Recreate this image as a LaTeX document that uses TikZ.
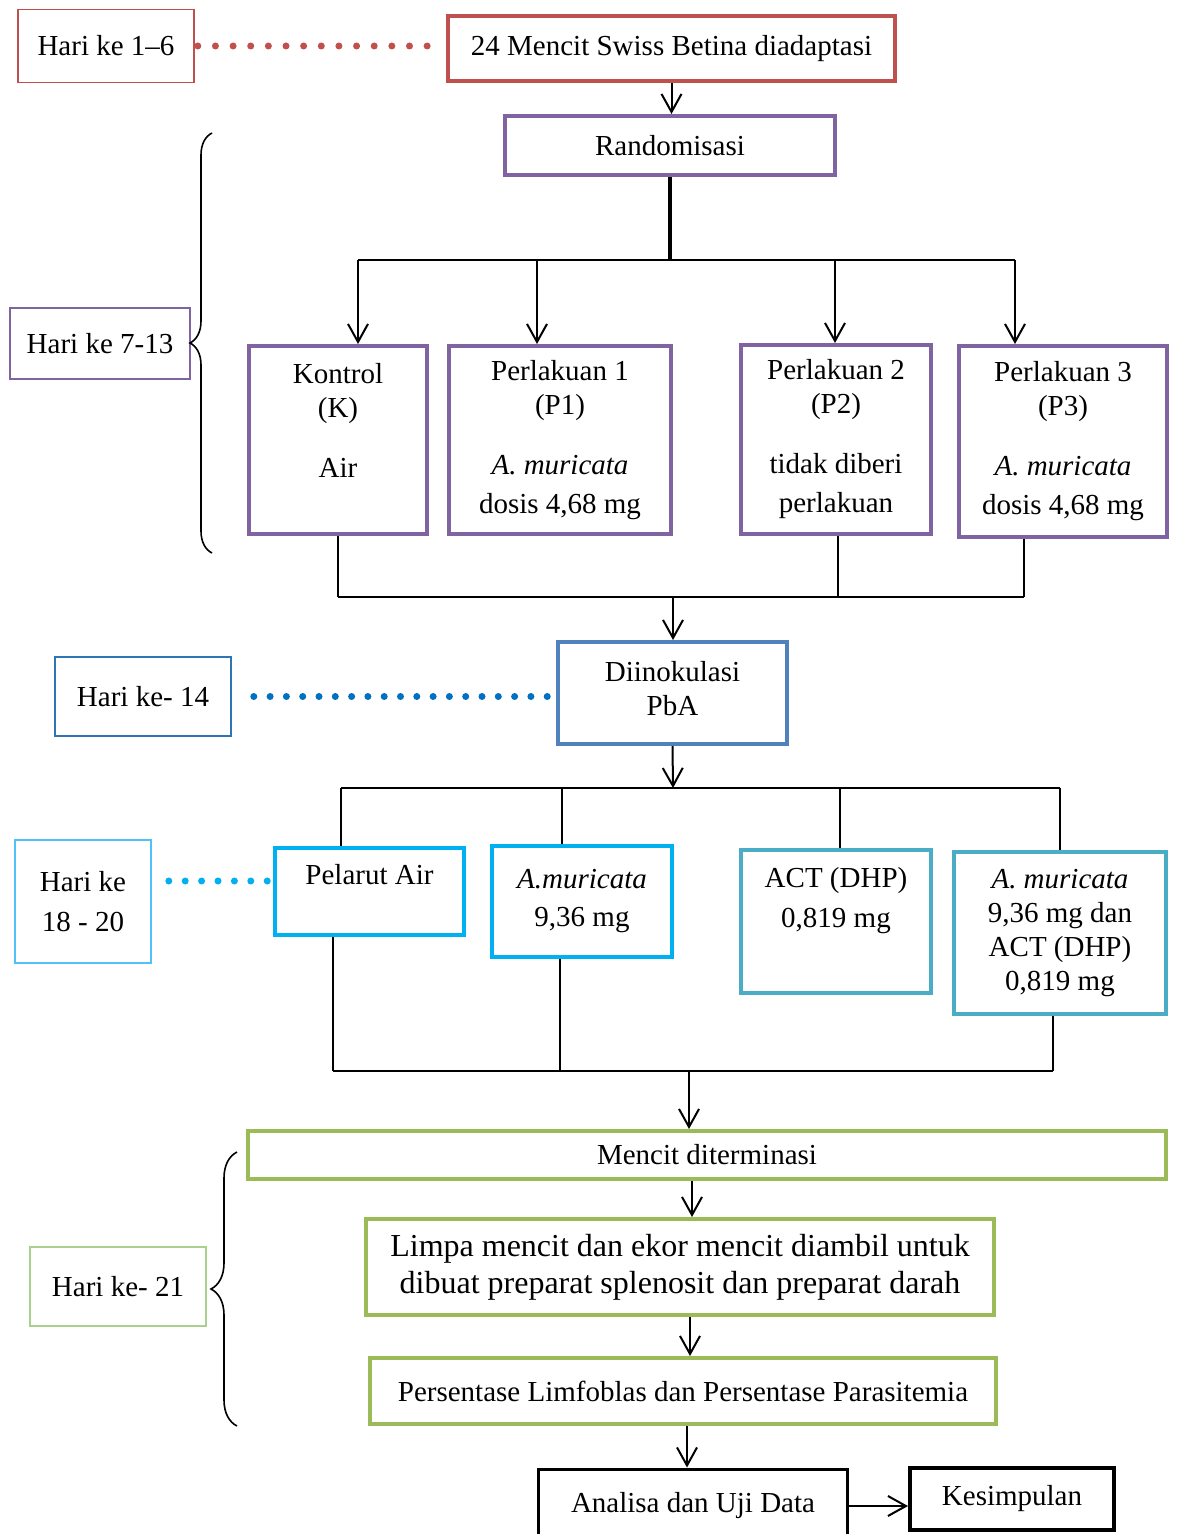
\documentclass[tikz,border=0pt]{standalone}
\usepackage{fontspec}
\setmainfont{Liberation Serif}
\usetikzlibrary{arrows.meta,decorations.pathreplacing}
\definecolor{boxred}{HTML}{C0504D}
\definecolor{boxpurple}{HTML}{8064A2}
\definecolor{boxblue}{HTML}{4F81BD}
\definecolor{dotblue}{HTML}{0070C0}
\definecolor{boxcyan}{HTML}{00B0F0}
\definecolor{boxteal}{HTML}{4BACC6}
\definecolor{boxgreen}{HTML}{9BBB59}
\definecolor{dayblue}{HTML}{2E75B6}
\definecolor{daycyan}{HTML}{4FC3F7}
\definecolor{daygreen}{HTML}{A9D18E}
\tikzset{
  stage/.style={draw,line width=2pt,align=center,inner sep=1pt},
  day/.style={draw,line width=0.8pt,align=center,inner sep=1pt},
  link/.style={line width=1pt},
  arr/.style={line width=1pt,-{Straight Barb[length=9pt,width=10pt]}},
  dotline/.style={line width=3.5pt,line cap=round,dash pattern=on 0pt off #1},
}
\begin{document}
\begin{tikzpicture}[x=0.5pt,y=-0.5pt,font=\fontsize{14.5}{17}\selectfont]
\useasboundingbox (0,0) rectangle (1178,1534);
% day labels
\node[day,draw=boxred,minimum width=88pt,minimum height=36.5pt] (day1) at (106,46) {Hari ke 1–6};
\node[day,draw=boxpurple,minimum width=90pt,minimum height=35.5pt] (day2) at (100,343.5) {Hari ke 7-13};
\node[day,draw=dayblue,minimum width=88pt,minimum height=39.5pt] (day3) at (143,696.5) {Hari ke- 14};
\node[day,draw=daycyan,minimum width=68pt,minimum height=61.5pt] (day4) at (83,901.5) {Hari ke\\[3pt]18 - 20};
\node[day,draw=daygreen,minimum width=88pt,minimum height=39.5pt] (day5) at (118,1286.5) {Hari ke- 21};
% stages
\node[stage,draw=boxred,minimum width=223.5pt,minimum height=32.5pt] (adapt) at (671.5,48.5) {24 Mencit Swiss Betina diadaptasi};
\node[stage,draw=boxpurple,minimum width=165pt,minimum height=29.5pt] (rand) at (670,145.5) {Randomisasi};
\node[stage,draw=boxpurple,minimum width=89pt,minimum height=94pt] (k) at (338,440) {Kontrol\\(K)\\[13pt]Air\\[2.5pt]\mbox{}};
\node[stage,draw=boxpurple,minimum width=111pt,minimum height=94pt] (p1) at (560,440) {Perlakuan 1\\(P1)\\[13pt]\textit{A. muricata}\\[2.5pt]dosis 4,68 mg};
\node[stage,draw=boxpurple,minimum width=95pt,minimum height=94.5pt] (p2) at (836,439.5) {Perlakuan 2\\(P2)\\[13pt]tidak diberi\\[2.5pt]perlakuan};
\node[stage,draw=boxpurple,minimum width=104pt,minimum height=95.5pt] (p3) at (1063,441.5) {Perlakuan 3\\(P3)\\[13pt]\textit{A. muricata}\\[2.5pt]dosis 4,68 mg};
\node[stage,draw=boxblue,minimum width=114.5pt,minimum height=51pt] (inok) at (672.5,693) {Diinokulasi\\PbA\\[-12pt]\mbox{}};
\node[stage,draw=boxcyan,minimum width=94.5pt,minimum height=43.5pt] (pel) at (369.5,891.5) {Pelarut Air\\\mbox{}};
\node[stage,draw=boxcyan,minimum width=90pt,minimum height=55.5pt] (am) at (582,901.5) {\textit{A.muricata}\\[2pt]9,36 mg};
\node[stage,draw=boxteal,minimum width=95pt,minimum height=71.5pt] (act) at (836,921.5) {ACT (DHP)\\[3pt]0,819 mg\\[7pt]\mbox{}};
\node[stage,draw=boxteal,minimum width=106pt,minimum height=81pt] (amact) at (1060,933) {\textit{A. muricata}\\9,36 mg dan\\ACT (DHP)\\0,819 mg};
\node[stage,draw=boxgreen,minimum width=459pt,minimum height=24pt] (term) at (707,1155) {Mencit diterminasi};
\node[stage,draw=boxgreen,minimum width=314pt,minimum height=48pt,font=\fontsize{16}{18.5}\selectfont] (limpa) at (680,1267) {Limpa mencit dan ekor mencit diambil untuk\\dibuat preparat splenosit dan preparat darah};
\node[stage,draw=boxgreen,minimum width=313pt,minimum height=33pt] (pers) at (683,1391) {Persentase Limfoblas dan Persentase Parasitemia};
\node[stage,draw=black,line width=1.5pt,minimum width=154.5pt,minimum height=37pt] (anal) at (693,1506) {Analisa dan Uji Data};
\node[stage,draw=black,minimum width=102pt,minimum height=31pt] (kes) at (1012,1499) {Kesimpulan};
% braces
\draw[decorate,decoration={brace,amplitude=11pt},line width=0.8pt] (212,553) -- (212,133);
\draw[decorate,decoration={brace,amplitude=13pt},line width=0.8pt] (237,1426) -- (237,1152);
% dotted day lines
\draw[dotline=8.82pt,boxred,shorten <=1.5pt,shorten >=8pt] (day1.east) -- (day1.east -| adapt.west);
\draw[dotline=8.15pt,dotblue,shorten <=11pt,shorten >=3pt] (day3.east) -- (day3.east -| inok.west);
\coordinate (c4) at (0,881);
\draw[dotline=8.2pt,boxcyan,shorten <=8.5pt,shorten >=1.5pt] (day4.east |- c4) -- (pel.west |- c4);
% adaptation to groups
\draw[arr] (adapt.south) -- (adapt.south |- rand.north);
\coordinate (sp1) at (670,260);
\draw[line width=1.8pt] (rand.south) -- (sp1);
\coordinate (k-in) at (358,260);
\coordinate (p1-in) at (537,260);
\coordinate (p2-in) at (835,260);
\coordinate (p3-in) at (1015,260);
\draw[link] (k-in) -- (p3-in);
\foreach \n in {k,p1,p2,p3} % arrows into groups
\draw[arr] (\n-in) -- (\n-in |- \n.north);
\coordinate (k-out) at (338,597);
\coordinate (p2-out) at (838,597);
\coordinate (p3-out) at (1024,597);
\foreach \n in {k,p2,p3} % lines out of groups
\draw[link] (\n-out |- \n.south) -- (\n-out);
\draw[link] (k-out) -- (p3-out);
\coordinate (j2) at (673,597);
\draw[arr] (j2) -- (j2 |- inok.north);
% inoculation to therapy
\coordinate (j3) at (673,788);
\draw[arr] (inok.south) -- (j3);
\coordinate (pel-in) at (341,788);
\coordinate (am-in) at (562,788);
\coordinate (act-in) at (840,788);
\coordinate (amact-in) at (1060,788);
\draw[link] (pel-in) -- (amact-in);
\foreach \n in {pel,am,act,amact} % lines into therapy boxes
\draw[link] (\n-in) -- (\n-in |- \n.north);
\coordinate (pel-out) at (333,1071);
\coordinate (am-out) at (560,1071);
\coordinate (amact-out) at (1053,1071);
\foreach \n in {pel,am,amact} % lines out of therapy boxes
\draw[link] (\n-out |- \n.south) -- (\n-out);
\draw[link] (pel-out) -- (amact-out);
\coordinate (j4) at (689,1071);
\draw[arr] (j4) -- (j4 |- term.north);
% day 21
\coordinate (a1) at (692,0);
\coordinate (a2) at (690,0);
\coordinate (a3) at (687,0);
\draw[arr] (term.south -| a1) -- (limpa.north -| a1);
\draw[arr] (limpa.south -| a2) -- (pers.north -| a2);
\draw[arr] (pers.south -| a3) -- (anal.north -| a3);
\draw[arr] (anal.east) -- (anal.east -| kes.west);
\end{tikzpicture}
\end{document}
